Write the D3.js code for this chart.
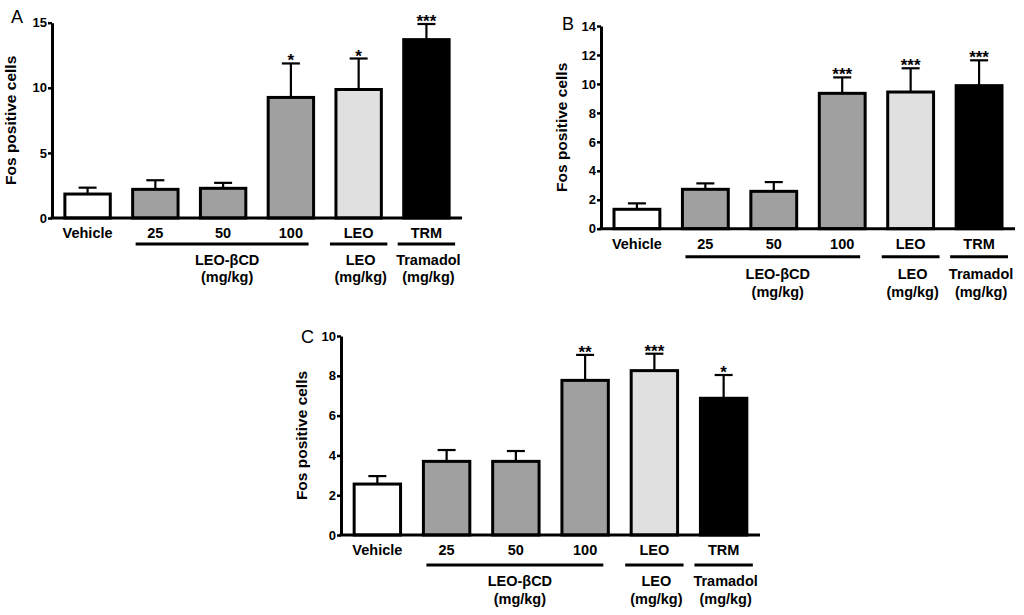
<!DOCTYPE html>
<html>
<meta charset="utf-8">
<style type="text/css">
	body { margin: 0; background: #fff; }
	svg text { font-family: "Liberation Sans", Arial, sans-serif; }
	.tick text { font-size: 13px; font-weight: bold; }
	.cat { font-size: 14.5px; font-weight: bold; }
	.ylab { font-size: 15.5px; font-weight: bold; }
	.star { font-size: 17px; font-weight: bold; }
	.panel { font-size: 18px; }
</style>
<svg width="1024" height="615"></svg>
<script src="https://d3js.org/d3.v7.min.js"></script>
<script>
	// treatment groups on the x axis
	var categories = ['Vehicle', '25', '50', '100', 'LEO', 'TRM'];
	var kinds = ['veh', 'cd', 'cd', 'cd', 'leo', 'trm'];
	var fills = { veh: '#ffffff', cd: '#a0a0a0', leo: '#e0e0e0', trm: '#000000' };

	var groups = [
		{ first: '25', last: '100', lines: ['LEO-\u03B2CD', '(mg/kg)'] },
		{ first: 'LEO', last: 'LEO', lines: ['LEO', '(mg/kg)'] },
		{ first: 'TRM', last: 'TRM', lines: ['Tramadol', '(mg/kg)'] }
	];

	// panel A
	var meansA = [1.84, 2.2, 2.28, 9.26, 9.87, 13.7];
	var semA = [0.49, 0.7, 0.42, 2.61, 2.38, 1.2];
	var starsA = ['', '', '', '*', '*', '***'];
	var ticksA = [0, 5, 10, 15];

	// panel B
	var meansB = [1.34, 2.72, 2.58, 9.35, 9.44, 9.88];
	var semB = [0.41, 0.41, 0.64, 1.1, 1.64, 1.75];
	var starsB = ['', '', '', '***', '***', '***'];
	var ticksB = [0, 2, 4, 6, 8, 10, 12, 14];

	// panel C
	var meansC = [2.56, 3.7, 3.7, 7.77, 8.26, 6.87];
	var semC = [0.4, 0.57, 0.52, 1.28, 0.85, 1.17];
	var starsC = ['', '', '', '**', '***', '*'];
	var ticksC = [0, 2, 4, 6, 8, 10];

	var svg = d3.select('svg');

	var panels = [
		{ name: 'A', means: meansA, sem: semA, stars: starsA, ticks: ticksA,
			x0: 52, x1: 462, top: 22.7, bottom: 218, ylabX: 16, lineOff: 26, t1: 47, t2: 64, labX: 11, labY: 23 },
		{ name: 'B', means: meansB, sem: semB, stars: starsB, ticks: ticksB,
			x0: 601, x1: 1015, top: 26, bottom: 228.7, ylabX: 567, lineOff: 28, t1: 50, t2: 68, labX: 562, labY: 30 },
		{ name: 'C', means: meansC, sem: semC, stars: starsC, ticks: ticksC,
			x0: 341, x1: 760, top: 336, bottom: 535, ylabX: 307, lineOff: 30, t1: 51, t2: 69, labX: 301, labY: 343 }
	];

	panels.forEach(drawPanel);

	function drawPanel(p) {
		var g = svg.append('g');
		var ymax = p.ticks[p.ticks.length - 1];

		var x = d3.scaleBand()
				.domain(categories)
				.range([p.x0, p.x1])
				.paddingInner(0.33)
				.paddingOuter(0.19);

		var y = d3.scaleLinear()
				.domain([0, ymax])
				.range([p.bottom, p.top]);

		var rows = categories.map(function(c, i) {
			return { cat: c, kind: kinds[i], mean: p.means[i], sem: p.sem[i], star: p.stars[i] };
		});

		// error bars (upper only)
		var eb = g.selectAll('.err').data(rows).enter().append('g').attr('class', 'err');
		eb.append('line')
			.attr('x1', function(d) { return x(d.cat) + x.bandwidth() / 2; })
			.attr('x2', function(d) { return x(d.cat) + x.bandwidth() / 2; })
			.attr('y1', function(d) { return y(d.mean); })
			.attr('y2', function(d) { return y(d.mean + d.sem); })
			.attr('stroke', '#000').attr('stroke-width', 2.2);
		eb.append('line')
			.attr('x1', function(d) { return x(d.cat) + x.bandwidth() / 2 - 9; })
			.attr('x2', function(d) { return x(d.cat) + x.bandwidth() / 2 + 9; })
			.attr('y1', function(d) { return y(d.mean + d.sem); })
			.attr('y2', function(d) { return y(d.mean + d.sem); })
			.attr('stroke', '#000').attr('stroke-width', 2.2);

		// bars
		g.selectAll('.bar').data(rows).enter().append('rect')
			.attr('class', 'bar')
			.attr('x', function(d) { return x(d.cat); })
			.attr('width', x.bandwidth())
			.attr('y', function(d) { return y(d.mean); })
			.attr('height', function(d) { return y(0) - y(d.mean); })
			.attr('fill', function(d) { return fills[d.kind]; })
			.attr('stroke', '#000')
			.attr('stroke-width', 3);

		// significance stars
		g.selectAll('.star').data(rows).enter().append('text')
			.attr('class', 'star')
			.attr('text-anchor', 'middle')
			.attr('x', function(d) { return x(d.cat) + x.bandwidth() / 2; })
			.attr('y', function(d) { return y(d.mean + d.sem) + 3; })
			.text(function(d) { return d.star; });

		// y axis
		var ax = g.append('g')
				.attr('transform', 'translate(' + p.x0 + ',0)')
				.call(d3.axisLeft(y).tickValues(p.ticks).tickSize(4).tickSizeOuter(0).tickPadding(1));
		ax.select('.domain').attr('stroke-width', 3);
		ax.selectAll('.tick line').attr('stroke-width', 2.5);
		ax.selectAll('.tick text').attr('fill', '#000');

		// x axis line
		g.append('line')
			.attr('x1', p.x0 - 1.5).attr('x2', p.x1)
			.attr('y1', y(0)).attr('y2', y(0))
			.attr('stroke', '#000').attr('stroke-width', 3);

		// category labels
		g.selectAll('.cat').data(categories).enter().append('text')
			.attr('class', 'cat')
			.attr('text-anchor', 'middle')
			.attr('x', function(d) { return x(d) + x.bandwidth() / 2; })
			.attr('y', y(0) + 20)
			.text(function(d) { return d; });

		// group brackets
		groups.forEach(function(gr) {
			var multi = gr.first !== gr.last;
			var a = x(gr.first) + (multi ? 3 : -6);
			var b = x(gr.last) + x.bandwidth() + (multi ? -5 : 6);
			g.append('line')
				.attr('x1', a).attr('x2', b)
				.attr('y1', y(0) + p.lineOff).attr('y2', y(0) + p.lineOff)
				.attr('stroke', '#000').attr('stroke-width', 3);
			g.append('text').attr('class', 'cat').attr('text-anchor', 'middle')
				.attr('x', (a + b) / 2 + (multi ? 5 : 2)).attr('y', y(0) + p.t1)
				.text(gr.lines[0]);
			g.append('text').attr('class', 'cat').attr('text-anchor', 'middle')
				.attr('x', (a + b) / 2 + (multi ? 5 : 2)).attr('y', y(0) + p.t2)
				.text(gr.lines[1]);
		});

		// y label
		g.append('text')
			.attr('class', 'ylab')
			.attr('text-anchor', 'middle')
			.attr('transform', 'translate(' + p.ylabX + ',' + ((p.top + p.bottom) / 2) + ') rotate(-90)')
			.text('Fos positive cells');

		// panel letter
		g.append('text')
			.attr('class', 'panel')
			.attr('x', p.labX)
			.attr('y', p.labY)
			.text(p.name);
	}
</script>
</html>
